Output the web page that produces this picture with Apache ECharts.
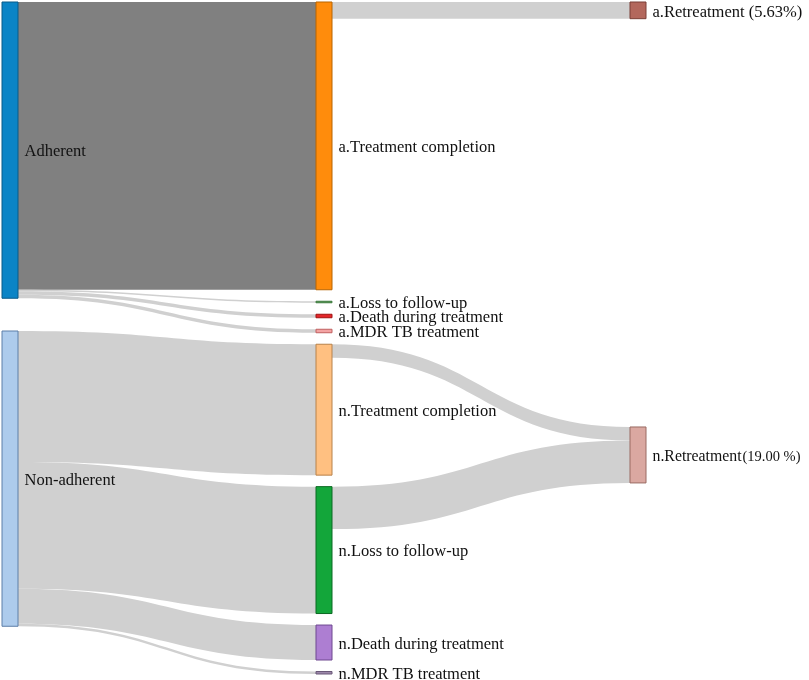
<!DOCTYPE html>
<html>
<head>
<meta charset="utf-8">
<script src="https://cdn.jsdelivr.net/npm/echarts@6/dist/echarts.min.js"></script>
<style>
html,body{margin:0;padding:0;background:#fff;}
#chart{width:809px;height:680px;}
</style>
</head>
<body>
<div id="chart"></div>
<script>
// ---- data ----
const nodeNames = [
  'Adherent', 'Non-adherent',
  'a.Treatment completion', 'a.Loss to follow-up', 'a.Death during treatment', 'a.MDR TB treatment',
  'n.Treatment completion', 'n.Loss to follow-up', 'n.Death during treatment', 'n.MDR TB treatment',
  'a.Retreatment', 'n.Retreatment'
];
const linkSources = [
  'Adherent', 'Adherent', 'Adherent', 'Adherent',
  'Non-adherent', 'Non-adherent', 'Non-adherent', 'Non-adherent',
  'a.Treatment completion',
  'n.Treatment completion', 'n.Loss to follow-up'
];
const linkTargets = [
  'a.Treatment completion', 'a.Loss to follow-up', 'a.Death during treatment', 'a.MDR TB treatment',
  'n.Treatment completion', 'n.Loss to follow-up', 'n.Death during treatment', 'n.MDR TB treatment',
  'a.Retreatment',
  'n.Retreatment', 'n.Retreatment'
];
const linkValues = [
  288, 1.5, 3.5, 3.5,
  131, 127, 35, 2.5,
  16.7,
  13.5, 42.5
];
const retreatPct = { 'a.Retreatment': '(5.63%)', 'n.Retreatment': '(19.00 %)' };

// ---- layout / styles ----
// vertical placement (fraction of the sankey box height) for nodes that are not simply stacked from the top
const nodePlacement = { 'Non-adherent': 0.4896, 'n.Retreatment': 0.6324 };
const nodeStyle = {
  'Adherent': ['#0b84c6', '#0a5a88'],
  'Non-adherent': ['#adcbec', '#5c7ea8'],
  'a.Treatment completion': ['#ff8c0c', '#b86400'],
  'a.Loss to follow-up': ['#5e9e5e', '#3d7a3d'],
  'a.Death during treatment': ['#e3262a', '#a01010'],
  'a.MDR TB treatment': ['#f3a3a3', '#c06060'],
  'n.Treatment completion': ['#ffc081', '#b8824a'],
  'n.Loss to follow-up': ['#13a63a', '#0b6a22'],
  'n.Death during treatment': ['#ad7ed2', '#6e4890'],
  'n.MDR TB treatment': ['#9c88aa', '#6a5878'],
  'a.Retreatment': ['#b3675c', '#7a3e36'],
  'n.Retreatment': ['#daa8a1', '#9a6a62']
};
const darkLink = 'Adherent>a.Treatment completion';

const nodes = nodeNames.map(n => {
  const d = {
    name: n,
    itemStyle: { color: nodeStyle[n][0], borderColor: nodeStyle[n][1], borderWidth: 1 }
  };
  if (nodePlacement[n] != null) d.localY = nodePlacement[n];
  return d;
});
const links = linkSources.map((s, i) => ({
  source: s, target: linkTargets[i], value: linkValues[i],
  lineStyle: { color: (s + '>' + linkTargets[i]) === darkLink ? '#808080' : '#d0d0d0', opacity: 1 }
}));

const chart = echarts.init(document.getElementById('chart'));
chart.setOption({
  animation: false,
  series: [{
    type: 'sankey',
    left: 2, top: 2, right: 163, bottom: 6,
    nodeWidth: 16,
    nodeGap: 11.5,
    nodeAlign: 'left',
    layoutIterations: 0,
    draggable: false,
    emphasis: { disabled: true },
    data: nodes,
    links: links,
    lineStyle: { curveness: 0.5, opacity: 1 },
    label: {
      position: 'right',
      distance: 6,
      offset: [0, 2],
      color: '#111',
      fontFamily: 'Liberation Serif',
      fontSize: 16.5,
      formatter: function (p) {
        if (p.name === 'n.Retreatment') return '{m|' + p.name + '}{s|' + retreatPct[p.name] + '}';
        if (p.name === 'a.Retreatment') return p.name + ' ' + retreatPct[p.name];
        return p.name;
      },
      rich: {
        m: { fontFamily: 'Liberation Serif', fontSize: 15.8, color: '#111' },
        s: { fontFamily: 'Liberation Serif', fontSize: 14.5, color: '#111', padding: [0, 0, 0, 1] }
      }
    }
  }]
});
</script>
</body>
</html>
